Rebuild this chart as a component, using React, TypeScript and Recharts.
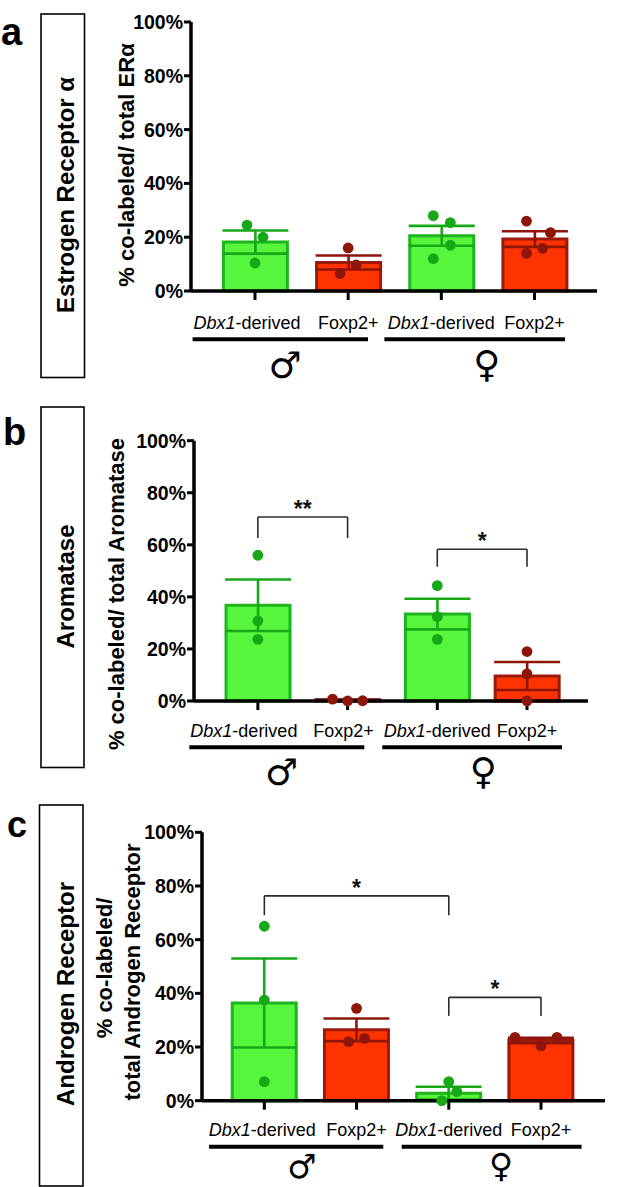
import React from 'react';
import { ComposedChart, Bar, ErrorBar, Scatter, XAxis, YAxis, ReferenceLine } from 'recharts';

const FONT = '"Liberation Sans", Arial, Helvetica, sans-serif';

// shared categories / ticks
const CATEGORIES = ['Dbx1-derived', 'Foxp2+', 'Dbx1-derived', 'Foxp2+'];
const Y_TICKS = [0, 20, 40, 60, 80, 100];

// a - Estrogen Receptor alpha
const ER_MEAN = [18.2, 10.6, 20.5, 19.3];
const ER_SEM = [4.3, 2.6, 3.7, 2.9];
const ER_POINTS = [[24.5, 20, 10.4], [16, 9.7, 6.5], [28, 25.4, 17, 12], [26, 21.7, 15.9, 14]];

// b - Aromatase
const AROM_MEAN = [36.8, 0.4, 33.4, 9.6];
const AROM_SEM = [9.9, 0.2, 5.9, 5.4];
const AROM_POINTS = [[56, 30.8, 23.7], [0.7, 0, 0.1], [44.3, 32.4, 23.7], [19, 10.4, 0]];
const AROM_BRACKETS = [
  { from: 1, to: 2, top: 70.7, foot: 62.6, label: '**' },
  { from: 3, to: 4, top: 58.3, foot: 51.6, label: '*' },
];

// c - Androgen Receptor
const AR_MEAN = [36.4, 26.4, 2.8, 22.4];
const AR_SEM = [16.6, 4.2, 2.4, 1.0];
const AR_POINTS = [[65, 37.5, 7.1], [34.4, 22, 23.2], [7.1, 3.4, 0], [23.6, 20.4, 23.6]];
const AR_BRACKETS = [
  { from: 1, to: 3, top: 76.3, foot: 69.1, label: '*' },
  { from: 3, to: 4, top: 38.5, foot: 31.6, label: '*' },
];

// colours
const GREEN_FILL = '#57f53b';
const GREEN_LINE = '#1fb51f';
const GREEN_DOT = '#17a817';
const RED_FILL = '#ff3300';
const RED_LINE = '#9c1a0c';
const RED_DOT = '#8e1509';

type Bracket = { from: number; to: number; top: number; foot: number; label: string };

type PanelProps = {
  top: number;
  plotTop: number;
  plotBottom: number;
  axisX: number;
  axisEnd: number;
  domain: [number, number];
  mean: number[];
  sem: number[];
  points: number[][];
  brackets: Bracket[];
  jitter: number[][]; // px offsets of the dots, purely cosmetic
  labelShift: number[];
  labelDy: number;
};

function Panel(p: PanelProps) {
  const height = p.plotBottom - p.top + 50;

  const rows = CATEGORIES.map((_, i) => {
    const green = i % 2 === 0;
    return {
      pos: i + 1,
      g: green ? p.mean[i] : null,
      gErr: green ? p.sem[i] : null,
      r: green ? null : p.mean[i],
      rErr: green ? null : p.sem[i],
    };
  });

  const dots = p.points.flatMap((vals, i) => vals.map((v, k) => ({ pos: i + 1, v, k })));
  const greenDots = dots.filter((d) => d.pos % 2 === 1);
  const redDots = dots.filter((d) => d.pos % 2 === 0);

  const dotShape = (color: string) => (s: any) => (
    <circle
      cx={s.cx + p.jitter[s.payload.pos - 1][s.payload.k]}
      cy={s.cy}
      r={5.4}
      fill={color}
    />
  );

  const CatTick = (t: any) => {
    const i = t.payload.value - 1;
    const name = CATEGORIES[i];
    if (!name) return null;
    return (
      <text
        x={t.x + p.labelShift[i]}
        y={t.y + p.labelDy}
        textAnchor="middle"
        fontFamily={FONT}
        fontSize={18}
        fill="#000"
      >
        {name.startsWith('Dbx1') ? (
          <>
            <tspan fontStyle="italic">Dbx1</tspan>
            <tspan>{name.slice(4)}</tspan>
          </>
        ) : (
          name
        )}
      </text>
    );
  };

  const bracketStroke = { stroke: '#2a2a2a', strokeWidth: 1.6 };

  return (
    <div style={{ position: 'absolute', left: 0, top: p.top }}>
      <ComposedChart
        width={617}
        height={height}
        data={rows}
        margin={{ top: p.plotTop - p.top, right: 617 - p.axisEnd, bottom: 10, left: p.axisX - 60 }}
      >
        <XAxis
          type="number"
          dataKey="pos"
          domain={p.domain}
          ticks={[1, 2, 3, 4]}
          allowDataOverflow
          interval={0}
          height={40}
          tickSize={9}
          tickLine={{ stroke: '#000', strokeWidth: 3 }}
          axisLine={{ stroke: '#000', strokeWidth: 3.5 }}
          tick={<CatTick />}
        />
        <YAxis
          domain={[0, 100]}
          ticks={Y_TICKS}
          interval={0}
          width={60}
          tickSize={7}
          tickMargin={1}
          tickFormatter={(v) => `${v}%`}
          tickLine={{ stroke: '#000', strokeWidth: 3 }}
          axisLine={{ stroke: '#000', strokeWidth: 3.5 }}
          tick={{ fill: '#000', fontSize: 19.5, fontWeight: 700, fontFamily: FONT }}
        />
        <Bar dataKey="g" stackId="s" barSize={64} fill={GREEN_FILL} stroke={GREEN_LINE} strokeWidth={3} isAnimationActive={false}>
          <ErrorBar dataKey="gErr" width={33} stroke={GREEN_DOT} strokeWidth={2.6} />
        </Bar>
        <Bar dataKey="r" stackId="s" barSize={64} fill={RED_FILL} stroke={RED_LINE} strokeWidth={3} isAnimationActive={false}>
          <ErrorBar dataKey="rErr" width={33} stroke={RED_DOT} strokeWidth={2.6} />
        </Bar>
        <Scatter data={greenDots} dataKey="v" shape={dotShape(GREEN_DOT)} isAnimationActive={false} />
        <Scatter data={redDots} dataKey="v" shape={dotShape(RED_DOT)} isAnimationActive={false} />
        {p.brackets.map((b, j) => (
          <ReferenceLine
            key={`top${j}`}
            segment={[{ x: b.from, y: b.top }, { x: b.to, y: b.top }]}
            ifOverflow="visible"
            {...bracketStroke}
            label={{ value: b.label, position: 'top', offset: 0, fontSize: 23, fontWeight: 700, fill: '#111', fontFamily: FONT }}
          />
        ))}
        {p.brackets.map((b, j) => (
          <ReferenceLine key={`l${j}`} segment={[{ x: b.from, y: b.top }, { x: b.from, y: b.foot }]} ifOverflow="visible" {...bracketStroke} />
        ))}
        {p.brackets.map((b, j) => (
          <ReferenceLine key={`r${j}`} segment={[{ x: b.to, y: b.top }, { x: b.to, y: b.foot }]} ifOverflow="visible" {...bracketStroke} />
        ))}
      </ComposedChart>
    </div>
  );
}

function Rotated({ x, y, size, children }: { x: number; y: number; size: number; children: React.ReactNode }) {
  return (
    <text
      transform={`translate(${x},${y}) rotate(-90)`}
      textAnchor="middle"
      dominantBaseline="central"
      fontFamily={FONT}
      fontWeight={700}
      fontSize={size}
      fill="#000"
    >
      {children}
    </text>
  );
}

function SexRow({ y, male, female, sx, fx, dy, size }: { y: number; male: [number, number]; female: [number, number]; sx: number; fx: number; dy: number; size: number }) {
  const sym = { textAnchor: 'middle' as const, dominantBaseline: 'central' as const, fontFamily: '"DejaVu Sans"', fontWeight: 700, fontSize: size, fill: '#000' };
  return (
    <g>
      <line x1={male[0]} x2={male[1]} y1={y} y2={y} stroke="#000" strokeWidth={4} />
      <line x1={female[0]} x2={female[1]} y1={y} y2={y} stroke="#000" strokeWidth={4} />
      <text x={sx} y={y + dy} {...sym}>♂</text>
      <text x={fx} y={y + dy - 1} {...sym}>♀</text>
    </g>
  );
}

export default function App() {
  return (
    <div style={{ position: 'absolute', left: 0, top: 0, width: 617, height: 1187, background: '#fff', overflow: 'hidden' }}>
      <Panel
        top={0}
        plotTop={22}
        plotBottom={291}
        axisX={191}
        axisEnd={597}
        domain={[0.313, 4.671]}
        mean={ER_MEAN}
        sem={ER_SEM}
        points={ER_POINTS}
        brackets={[]}
        jitter={[[-8, 8, 0], [0, 8, -8], [-8, 9, 9, -8], [-8, 16, 8, -8]]}
        labelShift={[-8, 0, 0, 0]}
        labelDy={27}
      />
      <Panel
        top={380}
        plotTop={440.7}
        plotBottom={701}
        axisX={194}
        axisEnd={588}
        domain={[0.288, 4.68]}
        mean={AROM_MEAN}
        sem={AROM_SEM}
        points={AROM_POINTS}
        brackets={AROM_BRACKETS}
        jitter={[[0, 0, 0], [-15, 0, 15], [0, 0, 0], [0, 0, 0]]}
        labelShift={[-14, -4, 0, 0]}
        labelDy={25}
      />
      <Panel
        top={790}
        plotTop={832.3}
        plotBottom={1100.7}
        axisX={202}
        axisEnd={605}
        domain={[0.324, 4.694]}
        mean={AR_MEAN}
        sem={AR_SEM}
        points={AR_POINTS}
        brackets={AR_BRACKETS}
        jitter={[[0, 0, 0], [0, -8, 8], [0, 8, -7], [-26, 0, 16]]}
        labelShift={[-2, 0, 0, 0]}
        labelDy={24}
      />
      <svg width={617} height={1187} style={{ position: 'absolute', left: 0, top: 0, pointerEvents: 'none' }}>
        {/* panel letters */}
        <text x={1} y={45} fontFamily={FONT} fontWeight={700} fontSize={38}>a</text>
        <text x={3} y={445} fontFamily={FONT} fontWeight={700} fontSize={38}>b</text>
        <text x={7} y={837} fontFamily={FONT} fontWeight={700} fontSize={36}>c</text>

        {/* side boxes */}
        <rect x={41} y={14} width={43.5} height={363.5} fill="none" stroke="#000" strokeWidth={1.6} />
        <rect x={41} y={407} width={43} height={360.5} fill="none" stroke="#000" strokeWidth={1.6} />
        <rect x={39.5} y={805} width={43.5} height={381} fill="none" stroke="#000" strokeWidth={1.6} />
        <Rotated x={65} y={195} size={24}>Estrogen Receptor α</Rotated>
        <Rotated x={65} y={586.5} size={24}>Aromatase</Rotated>
        <Rotated x={65} y={994} size={24}>Androgen Receptor</Rotated>

        {/* y-axis titles */}
        <Rotated x={126} y={165} size={22}>% co-labeled/ total ERα</Rotated>
        <Rotated x={116} y={594} size={22}>% co-labeled/ total Aromatase</Rotated>
        <Rotated x={104} y={968} size={22}>% co-labeled/</Rotated>
        <Rotated x={132} y={972} size={22}>total Androgen Receptor</Rotated>

        {/* sex groupings */}
        <SexRow y={339.3} male={[192.6, 368]} female={[384.4, 565]} sx={285} fx={486.7} dy={26} size={37} />
        <SexRow y={747.3} male={[189.3, 364.3]} female={[382.3, 562]} sx={281.7} fx={483.3} dy={25} size={37} />
        <SexRow y={1146.7} male={[209, 383.3]} female={[401.7, 581.6]} sx={301.7} fx={501} dy={20} size={33} />
      </svg>
    </div>
  );
}
